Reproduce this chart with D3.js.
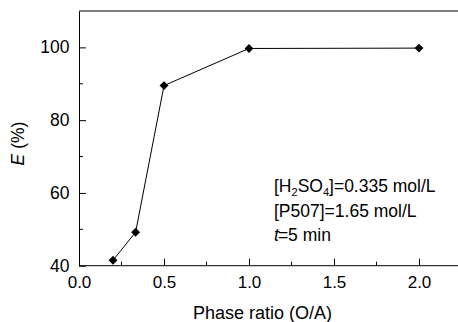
<!DOCTYPE html>
<html>
<head>
<meta charset="utf-8">
<script src="https://cdn.jsdelivr.net/npm/d3@7"></script>
<style>
  body { margin: 0; background: #fff; }
  svg { display: block; font-family: "Liberation Sans", Arial, sans-serif; }
</style>
</head>
<body>
<script>
/* DATA */
var phaseRatio = [0.2, 0.333, 0.5, 1.0, 2.0];
var extraction = [41.5, 49.2, 89.5, 99.7, 99.8];
var xTicks = [0, 0.5, 1.0, 1.5, 2.0];
var xMinor = [0.25, 0.75, 1.25, 1.75];
var yTicks = [40, 60, 80, 100];
var yMinor = [50, 70, 90];

/* GLOBAL */
var width = 458, height = 322;
var plotLeft = 79, plotTop = 11, plotBottom = 265.7;

var svg = d3.select('body').append('svg')
  .attr('width', width)
  .attr('height', height);

var x = d3.scaleLinear().domain([0, 2.25]).range([plotLeft, plotLeft + 2.25 * 170]);
var y = d3.scaleLinear().domain([40, 110]).range([plotBottom, plotTop]);

// top frame line
svg.append('line')
  .attr('x1', plotLeft).attr('x2', width)
  .attr('y1', y(110)).attr('y2', y(110))
  .attr('stroke', '#000').attr('stroke-width', 1);

// x axis, ticks pointing inward
var xAxis = svg.append('g')
  .attr('transform', 'translate(0,' + plotBottom + ')')
  .call(d3.axisBottom(x).tickValues(xTicks).tickSizeInner(-7).tickSizeOuter(0)
    .tickFormat(d3.format('.1f')));
xAxis.select('.domain').attr('d', 'M' + plotLeft + ',0H' + width);
xAxis.selectAll('text').attr('y', 10).attr('dy', '0.71em')
  .attr('font-size', 17).attr('font-family', null);
xAxis.selectAll('.minor').data(xMinor).enter().append('line')
  .attr('class', 'minor')
  .attr('x1', x).attr('x2', x).attr('y1', 0).attr('y2', -4)
  .attr('stroke', '#000');

// y axis, ticks pointing inward
var yAxis = svg.append('g')
  .attr('transform', 'translate(' + plotLeft + ',0)')
  .call(d3.axisLeft(y).tickValues(yTicks).tickSizeInner(-7).tickSizeOuter(0));
yAxis.selectAll('text').attr('x', -9.5).attr('font-size', 17.5).attr('font-family', null);
yAxis.selectAll('.minor').data(yMinor).enter().append('line')
  .attr('class', 'minor')
  .attr('y1', y).attr('y2', y).attr('x1', 0).attr('x2', 4)
  .attr('stroke', '#000');

// axis titles
svg.append('text')
  .attr('x', 262.5).attr('y', 319)
  .attr('text-anchor', 'middle').attr('font-size', 18)
  .text('Phase ratio (O/A)');

var yTitle = svg.append('text')
  .attr('transform', 'translate(23.5,143.5) rotate(-90)')
  .attr('text-anchor', 'middle').attr('font-size', 17.5);
yTitle.append('tspan').attr('font-style', 'italic').text('E');
yTitle.append('tspan').text(' (%)');

// series
var pts = phaseRatio.map(function(d, i) { return [d, extraction[i]]; });
svg.append('path')
  .datum(pts)
  .attr('fill', 'none').attr('stroke', '#000').attr('stroke-width', 1)
  .attr('d', d3.line().x(function(d) { return x(d[0]); }).y(function(d) { return y(d[1]); }));

svg.selectAll('.pt').data(pts).enter().append('path')
  .attr('class', 'pt')
  .attr('transform', function(d) { return 'translate(' + x(d[0]) + ',' + y(d[1]) + ')'; })
  .attr('d', d3.symbol().type(d3.symbolDiamond2).size(50))
  .attr('fill', '#000');

// annotation
var note = svg.append('g').attr('font-size', 17.5);
var t1 = note.append('text').attr('x', 274).attr('y', 192);
t1.append('tspan').text('[H');
t1.append('tspan').attr('font-size', 11).attr('dy', 4).text('2');
t1.append('tspan').attr('dy', -4).text('SO');
t1.append('tspan').attr('font-size', 11).attr('dy', 4).text('4');
t1.append('tspan').attr('dy', -4).text(']=0.335 mol/L');
note.append('text').attr('x', 274).attr('y', 216.5).text('[P507]=1.65 mol/L');
var t3 = note.append('text').attr('x', 274).attr('y', 241);
t3.append('tspan').attr('font-style', 'italic').text('t');
t3.append('tspan').attr('dx', -1).text('=5 min');
</script>
</body>
</html>
